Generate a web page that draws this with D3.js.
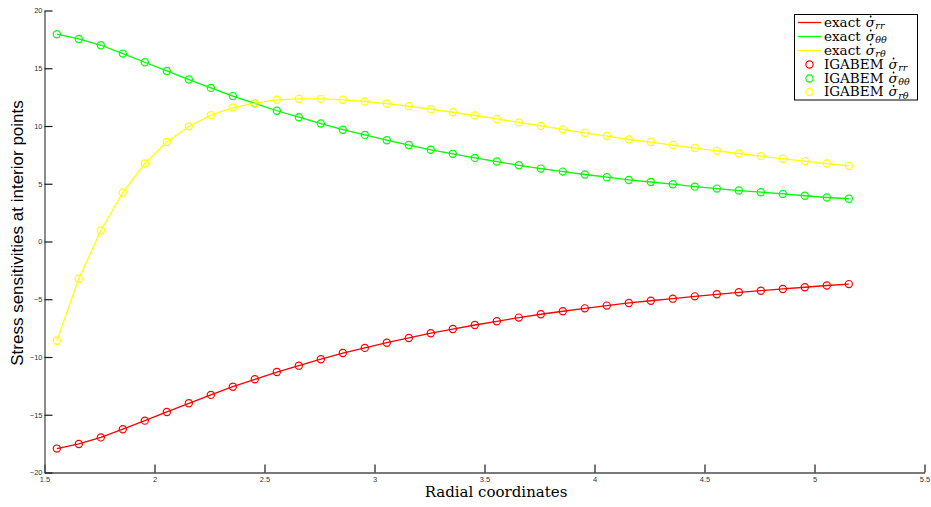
<!DOCTYPE html>
<html>
<head>
<meta charset="utf-8">
<script src="https://cdn.jsdelivr.net/npm/d3@7"></script>
<style>
  html, body { margin: 0; padding: 0; background: #fff; }
  svg { display: block; }
</style>
</head>
<body>
<svg id="chart" width="931" height="507"></svg>
<script>
// ---- data ----
const radial = [1.556, 1.656, 1.756, 1.856, 1.956, 2.056, 2.156, 2.256, 2.356, 2.456,
  2.556, 2.656, 2.756, 2.856, 2.956, 3.056, 3.156, 3.256, 3.356, 3.456,
  3.556, 3.656, 3.756, 3.856, 3.956, 4.056, 4.156, 4.256, 4.356, 4.456,
  4.556, 4.656, 4.756, 4.856, 4.956, 5.056, 5.156];

const sigmaRR = [-17.93, -17.53, -16.96, -16.25, -15.51, -14.76, -14.01, -13.28, -12.57, -11.93,
  -11.30, -10.75, -10.19, -9.66, -9.21, -8.76, -8.35, -7.94, -7.58, -7.23,
  -6.91, -6.59, -6.30, -6.04, -5.79, -5.55, -5.32, -5.13, -4.95, -4.75,
  -4.57, -4.40, -4.26, -4.11, -3.96, -3.81, -3.69];

const sigmaTT = [17.95, 17.54, 16.99, 16.27, 15.52, 14.77, 14.02, 13.30, 12.59, 11.96,
  11.32, 10.76, 10.21, 9.68, 9.23, 8.77, 8.35, 7.94, 7.59, 7.24, 6.92,
  6.60, 6.31, 6.05, 5.80, 5.57, 5.33, 5.15, 4.96, 4.75, 4.58, 4.41,
  4.27, 4.12, 3.96, 3.81, 3.70];

const sigmaRT = [-8.59, -3.23, 0.95, 4.24, 6.75, 8.61, 9.96, 10.94, 11.60, 11.98,
  12.27, 12.35, 12.35, 12.27, 12.12, 11.93, 11.71, 11.46, 11.19, 10.91,
  10.61, 10.31, 10.01, 9.71, 9.41, 9.13, 8.83, 8.61, 8.35, 8.09,
  7.85, 7.62, 7.39, 7.16, 6.96, 6.75, 6.55];

const xTicks = [1.5, 2, 2.5, 3, 3.5, 4, 4.5, 5, 5.5];
const yTicks = [-20, -15, -10, -5, 0, 5, 10, 15, 20];

const seriesNames = ["rr", "θθ", "rθ"];
const seriesColors = ["#ff0000", "#00ff00", "#ffff00"];
const seriesValues = [sigmaRR, sigmaTT, sigmaRT];

// ---- layout ----
const svg = d3.select("#chart");
const x = d3.scaleLinear().domain([1.5, 5.5]).range([44.5, 924.5]);
const y = d3.scaleLinear().domain([-20, 20]).range([472.5, 10.5]);

const fmt = v => (v < 0 ? "\u2212" + Math.abs(v) : String(v));

// axes (MATLAB style: ticks inside)
const xAxis = d3.axisBottom(x).tickValues(xTicks).tickSizeInner(-8).tickSizeOuter(0)
  .tickPadding(5).tickFormat(fmt);
const yAxis = d3.axisLeft(y).tickValues(yTicks).tickSizeInner(-8).tickSizeOuter(0)
  .tickPadding(3).tickFormat(fmt);

const gx = svg.append("g").attr("transform", `translate(0,${y(-20)})`).call(xAxis);
const gy = svg.append("g").attr("transform", `translate(${x(1.5)},0)`).call(yAxis);

[gx, gy].forEach(g => {
  g.select(".domain").attr("stroke", "#4d4d4d").attr("stroke-width", 1.3);
  g.selectAll(".tick line").attr("stroke", "#1a1a1a").attr("stroke-width", 1.2);
  g.selectAll(".tick text").attr("fill", "#333").attr("font-size", "7.5px")
    .attr("font-family", "'Liberation Sans', Arial, Helvetica, sans-serif");
});
gx.selectAll(".tick text").attr("dy", "0.6em");
gy.selectAll(".tick text").attr("x", -2);

// lines
const line = d3.line().x((d, i) => x(radial[i])).y(d => y(d));
const plot = svg.append("g");
seriesValues.forEach((vals, k) => {
  plot.append("path").datum(vals).attr("d", line)
    .attr("fill", "none").attr("stroke", seriesColors[k]).attr("stroke-width", 1.3);
});
seriesValues.forEach((vals, k) => {
  plot.append("g").selectAll("circle").data(vals).join("circle")
    .attr("cx", (d, i) => x(radial[i])).attr("cy", d => y(d)).attr("r", 3.6)
    .attr("fill", "none").attr("stroke", seriesColors[k]).attr("stroke-width", 1.2);
});

// axis titles
svg.append("text")
  .attr("x", 496).attr("y", 497)
  .attr("text-anchor", "middle")
  .attr("font-family", "'DejaVu Serif', 'Liberation Serif', serif")
  .attr("font-size", "15px").attr("fill", "#000")
  .text("Radial coordinates");

svg.append("text")
  .attr("transform", "translate(23,233) rotate(-90)")
  .attr("text-anchor", "middle")
  .attr("font-family", "'Liberation Sans', Arial, Helvetica, sans-serif")
  .attr("font-size", "17px").attr("fill", "#000")
  .text("Stress sensitivities at interior points");

// legend
const lg = svg.append("g");
lg.append("rect").attr("x", 794.5).attr("y", 14.5).attr("width", 123).attr("height", 85.5)
  .attr("fill", "#fff").attr("stroke", "#000").attr("stroke-width", 1);

const rowY = [22.5, 36.5, 50.5, 64.5, 78.5, 92];
const entries = [];
seriesNames.forEach((n, k) => entries.push({ kind: "line", label: "exact", sub: n, color: seriesColors[k] }));
seriesNames.forEach((n, k) => entries.push({ kind: "marker", label: "IGABEM", sub: n, color: seriesColors[k] }));

const serif = "'DejaVu Serif', 'Liberation Serif', serif";
entries.forEach((e, i) => {
  const cy = rowY[i];
  if (e.kind === "line") {
    lg.append("line").attr("x1", 798).attr("x2", 821).attr("y1", cy).attr("y2", cy)
      .attr("stroke", e.color).attr("stroke-width", 1.3);
  } else {
    lg.append("circle").attr("cx", 809.5).attr("cy", cy).attr("r", 3.6)
      .attr("fill", "none").attr("stroke", e.color).attr("stroke-width", 1.2);
  }
  const base = cy + 4;
  const t1 = lg.append("text").attr("x", 824).attr("y", base)
    .attr("font-family", serif).attr("font-size", "13.5px").attr("fill", "#000")
    .text(e.label);
  const w1 = t1.node().getComputedTextLength();
  const sx = 824 + w1 + 5;
  const t2 = lg.append("text").attr("x", sx).attr("y", base)
    .attr("font-family", serif).attr("font-size", "13.5px").attr("font-style", "italic")
    .attr("fill", "#000").text("\u03C3");
  const w2 = t2.node().getComputedTextLength();
  // dot accent above sigma
  lg.append("circle").attr("cx", sx + w2 * 0.55).attr("cy", base - 10).attr("r", 0.9)
    .attr("fill", "#000");
  lg.append("text").attr("x", sx + w2 + 0.5).attr("y", base + 2.5)
    .attr("font-family", serif).attr("font-size", "9.5px").attr("font-style", "italic")
    .attr("fill", "#000").text(e.sub);
});
</script>
</body>
</html>
